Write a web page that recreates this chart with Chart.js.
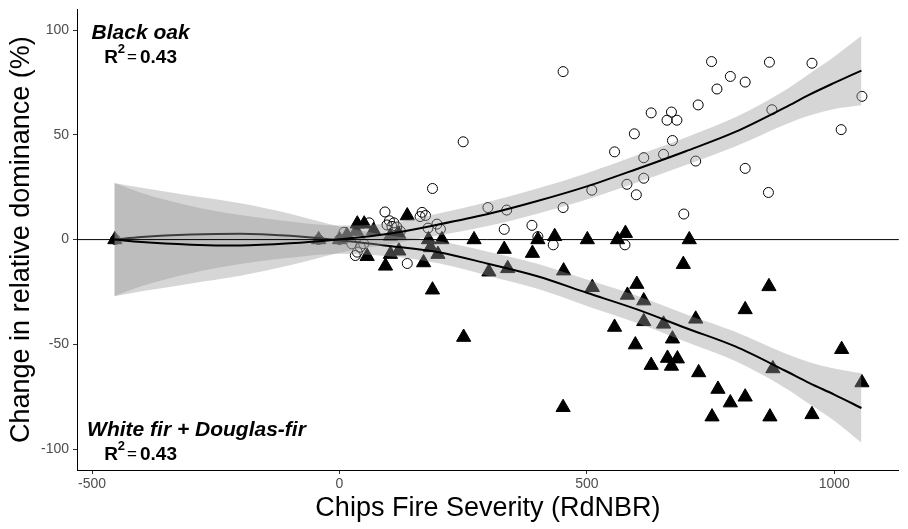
<!DOCTYPE html>
<html>
<head>
<meta charset="utf-8">
<script src="https://cdn.jsdelivr.net/npm/chart.js@4"></script>
<style>
	html, body { margin: 0; padding: 0; background: #fff; }
	canvas { display: block; }
</style>
</head>
<body>
<canvas id="chart" width="908" height="529"></canvas>
<script>
// Black oak plots (open circles)
const oakX = [-453, -42, 0, 9, 25, 32, 36, 42, 49, 60, 92, 96, 101, 106, 110, 116, 123, 137, 163, 167,
	174, 179, 188, 197, 204, 250, 300, 333, 338, 389, 401, 432, 452, 452, 510, 556, 577, 581, 596, 600,
	615, 615, 630, 655, 662, 671, 673, 682, 696, 720, 725, 752, 763, 790, 820, 820, 867, 869, 874, 955,
	1014, 1056];
const oakY = [0, 0, 0, 3.5, -2, -7.6, -6, -3.6, -2, 8, 13.2, 7, 9, 6.3, 8, 6, 4, -11.4, 11, 13,
	11.5, 5.5, 24.4, 7.4, 5, 46.7, 15.3, 4.9, 14.1, 6.8, 1.4, -2.5, 80.2, 15.3, 23.6, 41.9, -2.5, 26.4, 50.5, 21.4,
	39.1, 29.3, 60.5, 40.7, 57, 60.9, 47.3, 57, 12.2, 37.5, 64.3, 85, 71.9, 77.9, 75.2, 34, 22.5, 84.7, 62, 84.2,
	52.5, 68.4];

// White fir + Douglas-fir plots (filled triangles)
const firX = [-454, -42, 0, 15, 34, 36, 50, 56, 69, 93, 103, 103, 120, 120, 137, 170, 180, 184, 188, 199,
	207, 251, 272, 302, 333, 340, 390, 401, 435, 452, 453, 501, 511, 556, 562, 578, 582, 598, 601, 615,
	615, 630, 655, 663, 671, 673, 683, 695, 707, 720, 726, 753, 765, 790, 820, 820, 868, 870, 876, 955,
	1015, 1056];
const firY = [0, 0, 0, 2, 4, 7.5, 7.5, -8, 4.4, -12.6, 1.7, -7, 2.5, -5.4, 11.4, -11, 0, -3.8, -24, -7,
	0, -46.6, 0, -15.4, -4.6, -13.8, -6.5, 0, 1.5, -80.1, -14.9, 0, -22.8, -41.8, 0, 3, -26.5, -50.2, -21.3, -29.2,
	-39.1, -60, -40.3, -56.6, -60.4, -47.4, -56.9, -11.8, 0, -37.9, -63.5, -84.6, -71.4, -77.9, -33.4, -75.1, -22.4, -84.6, -61.6, -83.5,
	-52.4, -68.3];

// loess fits and their confidence bands
const fitX = [-455, -400, -300, -200, -100, 0, 100, 200, 300, 400, 500, 600, 700, 800, 900, 950, 1000, 1055];
const oakFit = [0, -1.2, -2.4, -2.8, -1.8, 0.2, 2.8, 7.2, 12.2, 18.4, 25.4, 33.6, 42.2, 51.4, 63, 69.2, 74.8, 80.7];
const oakHi = [27, 22.3, 16.1, 11.7, 8.7, 6.7, 7.8, 12.5, 17.9, 24.4, 31.7, 40.1, 48.8, 58.4, 71.2, 79.2, 87.3, 97.3];
const oakLo = [-27, -24.7, -20.9, -17.3, -12.3, -6.3, -2.2, 1.9, 6.5, 12.4, 19.1, 27.1, 35.6, 44.4, 54.8, 59.2, 62.3, 64.1];
const firFit = [0, 1.2, 2.4, 2.8, 1.8, -0.3, -3, -6, -11.5, -17.5, -25.4, -33.2, -42.2, -51, -62.5, -68.5, -74, -80.4];
const firHi = [27, 24.7, 20.9, 17.3, 12.3, 6.2, 2, -0.7, -5.8, -11.5, -19.1, -26.7, -35.6, -44, -54.3, -58.5, -61.5, -63.8];
const firLo = [-27, -22.3, -16.1, -11.7, -8.7, -6.8, -8, -11.3, -17.2, -23.5, -31.7, -39.7, -48.8, -58, -70.7, -78.5, -86.5, -97];

const xTicks = [-500, 0, 500, 1000];
const yTicks = [-100, -50, 0, 50, 100];

// text labels, placed in data units
const labels = [
	{text: 'Black oak', x: -402, y: 95.6, r2: false},
	{text: '0.43', x: -402, y: 84.5, r2: true},
	{text: 'White fir + Douglas-fir', x: -289, y: -93.9, r2: false},
	{text: '0.43', x: -402, y: -105.4, r2: true}
];

const FONT = '"Liberation Sans", Arial, sans-serif';
const BAND = 'rgba(153,153,153,0.4)';

function pts(xs, ys) {
	return xs.map(function(x, i) {
		return {x: x, y: ys[i]};
	});
}

function lineSet(ys, opts) {
	const base = {
		data: pts(fitX, ys),
		showLine: true,
		pointRadius: 0,
		borderWidth: 0,
		borderColor: 'rgba(0,0,0,0)',
		backgroundColor: BAND,
		cubicInterpolationMode: 'monotone',
		fill: false
	};
	return Object.assign(base, opts);
}

// zero reference line, on top of the bands
const hlinePlugin = {
	id: 'hline',
	afterDatasetsDraw: function(chart) {
		const ctx = chart.ctx;
		const area = chart.chartArea;
		const y0 = chart.scales.y.getPixelForValue(0);
		ctx.save();
		ctx.strokeStyle = '#000';
		ctx.lineWidth = 1;
		ctx.beginPath();
		ctx.moveTo(area.left, y0);
		ctx.lineTo(area.right, y0);
		ctx.stroke();
		ctx.restore();
	}
};

const textPlugin = {
	id: 'labels',
	afterDraw: function(chart) {
		const ctx = chart.ctx;
		const sx = chart.scales.x;
		const sy = chart.scales.y;
		ctx.save();
		ctx.fillStyle = '#000';
		ctx.textBaseline = 'alphabetic';
		labels.forEach(function(l) {
			const cx = sx.getPixelForValue(l.x);
			const by = sy.getPixelForValue(l.y);
			if (!l.r2) {
				ctx.font = 'italic bold 21px ' + FONT;
				ctx.textAlign = 'center';
				ctx.fillText(l.text, cx, by);
				return;
			}
			// R^2 = value, plotmath style
			ctx.textAlign = 'left';
			const big = 'bold 19px ' + FONT;
			const sup = 'bold 13px ' + FONT;
			ctx.font = big;
			const wR = ctx.measureText('R').width;
			const wV = ctx.measureText(l.text).width;
			ctx.font = '17px ' + FONT;
			const wEq = ctx.measureText('=').width;
			ctx.font = sup;
			const w2 = ctx.measureText('2').width;
			const total = wR + w2 + 2 + wEq + 3 + wV;
			let x = cx - total / 2;
			ctx.font = big;
			ctx.fillText('R', x, by);
			x += wR;
			ctx.font = sup;
			ctx.fillText('2', x, by - 10);
			x += w2 + 2;
			ctx.font = '17px ' + FONT;
			ctx.fillText('=', x, by - 1);
			x += wEq + 3;
			ctx.font = big;
			ctx.fillText(l.text, x, by);
		});
		ctx.restore();
	}
};

const ctx = document.getElementById('chart').getContext('2d');
new Chart(ctx, {
	type: 'scatter',
	data: {
		datasets: [
			{
				data: pts(oakX, oakY),
				pointStyle: 'circle',
				pointRadius: 5,
				borderWidth: 1,
				borderColor: '#000',
				backgroundColor: 'rgba(0,0,0,0)',
				order: 7
			},
			{
				data: pts(firX, firY),
				pointStyle: 'triangle',
				pointRadius: 8.2,
				borderWidth: 1,
				borderColor: '#000',
				backgroundColor: '#000',
				order: 6
			},
			lineSet(firHi, {order: 5}),
			lineSet(firLo, {order: 4, fill: 2}),
			lineSet(firFit, {order: 3, borderWidth: 2, borderColor: '#000'}),
			lineSet(oakHi, {order: 2}),
			lineSet(oakLo, {order: 1, fill: 5}),
			lineSet(oakFit, {order: 0, borderWidth: 2, borderColor: '#000'})
		]
	},
	options: {
		responsive: false,
		animation: false,
		devicePixelRatio: 1,
		layout: {padding: {top: 7, right: 8, left: 0, bottom: 0}},
		plugins: {
			legend: {display: false},
			tooltip: {enabled: false}
		},
		scales: {
			x: {
				type: 'linear',
				min: -530.5,
				max: 1130.5,
				afterBuildTicks: function(s) {
					s.ticks = xTicks.map(function(v) { return {value: v}; });
				},
				afterFit: function(s) {
					s.height = 59;
					s.paddingLeft = 0;
					s.paddingRight = 0;
				},
				border: {display: true, color: '#000', width: 1},
				grid: {drawOnChartArea: false, drawTicks: true, tickLength: 4, color: '#333'},
				ticks: {
					color: '#4d4d4d',
					font: {family: FONT, size: 14},
					padding: 2,
					maxRotation: 0,
					callback: function(v) { return String(v); }
				},
				title: {
					display: true,
					text: 'Chips Fire Severity (RdNBR)',
					color: '#000',
					font: {family: FONT, size: 27},
					padding: {top: 0, bottom: 4}
				}
			},
			y: {
				type: 'linear',
				min: -110,
				max: 110,
				afterBuildTicks: function(s) {
					s.ticks = yTicks.map(function(v) { return {value: v}; });
				},
				afterFit: function(s) {
					s.width = 77;
					s.paddingTop = 0;
					s.paddingBottom = 0;
				},
				border: {display: true, color: '#000', width: 1},
				grid: {drawOnChartArea: false, drawTicks: true, tickLength: 4, color: '#333'},
				ticks: {
					color: '#4d4d4d',
					font: {family: FONT, size: 14},
					padding: 4,
					callback: function(v) { return String(v); }
				},
				title: {
					display: true,
					text: 'Change in relative dominance (%)',
					color: '#000',
					font: {family: FONT, size: 27},
					padding: {top: 5, bottom: 0}
				}
			}
		}
	},
	plugins: [hlinePlugin, textPlugin]
});
</script>
</body>
</html>
